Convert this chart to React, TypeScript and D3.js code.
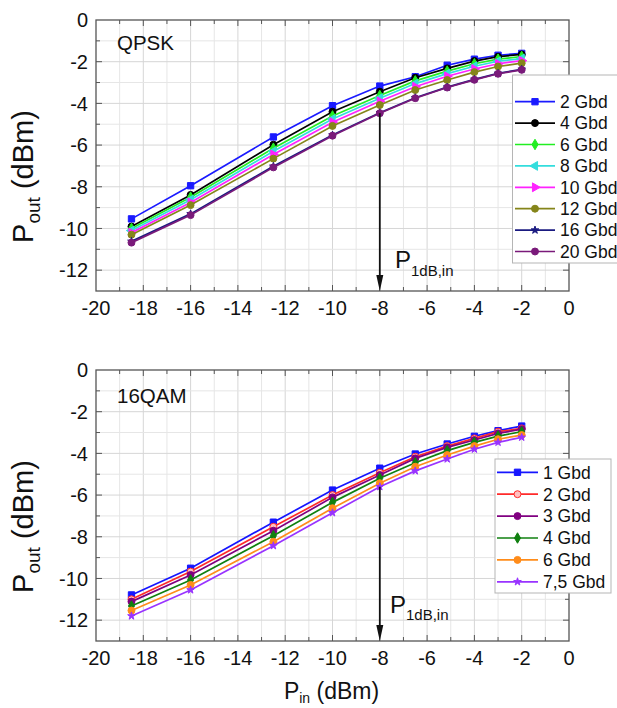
import React from "react";
import * as d3 from "d3";

const PIN = [-18.5, -16, -12.5, -10, -8, -6.5, -5.15, -4, -3, -2];

const QPSK_LABELS = ["2 Gbd", "4 Gbd", "6 Gbd", "8 Gbd", "10 Gbd", "12 Gbd", "16 Gbd", "20 Gbd"];
const QPSK_2 = [-9.54, -7.95, -5.61, -4.11, -3.17, -2.72, -2.17, -1.88, -1.69, -1.6];
const QPSK_4 = [-9.91, -8.39, -5.98, -4.4, -3.44, -2.77, -2.32, -1.97, -1.76, -1.65];
const QPSK_6 = [-10.0, -8.5, -6.15, -4.6, -3.62, -2.92, -2.45, -2.1, -1.88, -1.75];
const QPSK_8 = [-10.1, -8.62, -6.3, -4.75, -3.75, -3.05, -2.57, -2.22, -1.98, -1.85];
const QPSK_10 = [-10.2, -8.75, -6.45, -4.9, -3.9, -3.2, -2.7, -2.35, -2.1, -1.95];
const QPSK_12 = [-10.3, -8.88, -6.65, -5.08, -4.08, -3.36, -2.88, -2.5, -2.23, -2.07];
const QPSK_16 = [-10.62, -9.3, -7.02, -5.52, -4.45, -3.73, -3.22, -2.85, -2.56, -2.37];
const QPSK_20 = [-10.68, -9.36, -7.07, -5.55, -4.47, -3.75, -3.24, -2.87, -2.58, -2.39];

const QAM_LABELS = ["1 Gbd", "2 Gbd", "3 Gbd", "4 Gbd", "6 Gbd", "7,5 Gbd"];
const QAM_1 = [-10.79, -9.51, -7.3, -5.76, -4.71, -4.03, -3.55, -3.18, -2.91, -2.69];
const QAM_2 = [-11.0, -9.67, -7.52, -6.0, -4.93, -4.16, -3.65, -3.28, -2.96, -2.8];
const QAM_3 = [-11.11, -9.83, -7.71, -6.11, -5.04, -4.24, -3.71, -3.36, -3.04, -2.84];
const QAM_4 = [-11.32, -10.07, -7.95, -6.35, -5.19, -4.45, -3.87, -3.47, -3.17, -2.96];
const QAM_6 = [-11.54, -10.31, -8.24, -6.63, -5.43, -4.64, -4.08, -3.65, -3.32, -3.12];
const QAM_75 = [-11.8, -10.55, -8.43, -6.85, -5.6, -4.84, -4.27, -3.8, -3.47, -3.23];

const X_TICKS = [-20, -18, -16, -14, -12, -10, -8, -6, -4, -2, 0];
const Y_TICKS = [0, -2, -4, -6, -8, -10, -12];

const FONT = "'Liberation Sans', Arial, sans-serif";

type Series = { label: string; values: number[]; color: string; fill: string; shape: string };

const qpskSeries: Series[] = [
  { label: QPSK_LABELS[0], values: QPSK_2, color: "#1a1aff", fill: "#1a1aff", shape: "square" },
  { label: QPSK_LABELS[1], values: QPSK_4, color: "#000000", fill: "#000000", shape: "circle" },
  { label: QPSK_LABELS[2], values: QPSK_6, color: "#22ee22", fill: "#22ee22", shape: "diamond" },
  { label: QPSK_LABELS[3], values: QPSK_8, color: "#33dddd", fill: "#33dddd", shape: "triLeft" },
  { label: QPSK_LABELS[4], values: QPSK_10, color: "#ff22ff", fill: "#ff22ff", shape: "triRight" },
  { label: QPSK_LABELS[5], values: QPSK_12, color: "#85851a", fill: "#85851a", shape: "circle" },
  { label: QPSK_LABELS[6], values: QPSK_16, color: "#1a1a80", fill: "#1a1a80", shape: "star" },
  { label: QPSK_LABELS[7], values: QPSK_20, color: "#7a1a7a", fill: "#7a1a7a", shape: "circle" },
];

const qamSeries: Series[] = [
  { label: QAM_LABELS[0], values: QAM_1, color: "#1515ff", fill: "#1515ff", shape: "square" },
  { label: QAM_LABELS[1], values: QAM_2, color: "#ff2a2a", fill: "#ffc0c0", shape: "circle" },
  { label: QAM_LABELS[2], values: QAM_3, color: "#800080", fill: "#800080", shape: "circle" },
  { label: QAM_LABELS[3], values: QAM_4, color: "#108010", fill: "#108010", shape: "diamond" },
  { label: QAM_LABELS[4], values: QAM_6, color: "#ff8c1a", fill: "#ff8c1a", shape: "circle" },
  { label: QAM_LABELS[5], values: QAM_75, color: "#9933ff", fill: "#9933ff", shape: "star" },
];

function markerPath(shape: string): { d: string; rot: number } {
  const sym = d3.symbol();
  switch (shape) {
    case "square":
      return { d: sym.type(d3.symbolSquare).size(40)()!, rot: 0 };
    case "diamond":
      return { d: sym.type(d3.symbolDiamond).size(32)()!, rot: 0 };
    case "triLeft":
      return { d: sym.type(d3.symbolTriangle).size(34)()!, rot: -90 };
    case "triRight":
      return { d: sym.type(d3.symbolTriangle).size(34)()!, rot: 90 };
    case "star":
      return { d: sym.type(d3.symbolStar).size(18)()!, rot: 0 };
    default:
      return { d: sym.type(d3.symbolCircle).size(38)()!, rot: 0 };
  }
}

function Marker({ s, x, y }: { s: Series; x: number; y: number }) {
  const m = markerPath(s.shape);
  return (
    <path
      d={m.d}
      transform={`translate(${x},${y}) rotate(${m.rot})`}
      fill={s.fill}
      stroke={s.color}
      strokeWidth={1}
    />
  );
}

type PanelProps = {
  top: number;
  bottom: number;
  series: Series[];
  title: string;
  titleBaseline: number;
  legend: { x: number; y: number; w: number; h: number; row0: number; step: number; lineX0: number; lineX1: number; textX: number };
  arrowFrom: number;
  label: { x: number; y: number; subDy: number };
  yTitleY: number;
};

const LEFT = 96;
const RIGHT = 569;

function Panel(p: PanelProps) {
  const x = d3.scaleLinear().domain([-20, 0]).range([LEFT, RIGHT]);
  const y = d3.scaleLinear().domain([-13, 0]).range([p.bottom, p.top]);
  const line = d3
    .line<number>()
    .x((_, i) => x(PIN[i]))
    .y((v) => y(v));
  const xMinor = d3.range(-19, 0, 1);
  const yMinor = d3.range(-12, 0, 1);
  const frame = "#555";
  return (
    <g>
      {xMinor.map((v) => (
        <line key={"gx" + v} x1={x(v)} x2={x(v)} y1={p.top} y2={p.bottom} stroke={v % 2 === 0 ? "#d6d6d6" : "#e6e6e6"} strokeWidth={1} />
      ))}
      {yMinor.map((v) => (
        <line key={"gy" + v} y1={y(v)} y2={y(v)} x1={LEFT} x2={RIGHT} stroke={v % 2 === 0 ? "#d6d6d6" : "#e6e6e6"} strokeWidth={1} />
      ))}
      {d3.range(-19, 0, 1).map((v) => {
        const len = v % 2 === 0 ? 6 : 4;
        return (
          <g key={"tx" + v}>
            <line x1={x(v)} x2={x(v)} y1={p.bottom} y2={p.bottom - len} stroke={frame} />
            <line x1={x(v)} x2={x(v)} y1={p.top} y2={p.top + len} stroke={frame} />
          </g>
        );
      })}
      {d3.range(-12, 0, 1).map((v) => {
        const len = v % 2 === 0 ? 6 : 4;
        return (
          <g key={"ty" + v}>
            <line y1={y(v)} y2={y(v)} x1={LEFT} x2={LEFT + len} stroke={frame} />
            <line y1={y(v)} y2={y(v)} x1={RIGHT} x2={RIGHT - len} stroke={frame} />
          </g>
        );
      })}
      <rect x={LEFT} y={p.top} width={RIGHT - LEFT} height={p.bottom - p.top} fill="none" stroke={frame} strokeWidth={1.3} />
      {X_TICKS.map((v) => (
        <text key={"lx" + v} x={x(v)} y={p.bottom + 24} textAnchor="middle" fontFamily={FONT} fontSize={20} fill="#111">
          {v}
        </text>
      ))}
      {Y_TICKS.map((v) => (
        <text key={"ly" + v} x={88} y={y(v)} dy="0.36em" textAnchor="end" fontFamily={FONT} fontSize={20} fill="#111">
          {v}
        </text>
      ))}
      <text transform={`translate(33,${p.yTitleY}) rotate(-90)`} textAnchor="middle" fontFamily={FONT} fontSize={29} fill="#111">
        P<tspan fontSize={19} dy={7}>out</tspan>
        <tspan dy={-7}> (dBm)</tspan>
      </text>
      {p.series.map((s) => (
        <g key={s.label}>
          <path d={line(s.values)!} fill="none" stroke={s.color} strokeWidth={1.7} />
          {s.values.map((v, i) => (
            <Marker key={i} s={s} x={x(PIN[i])} y={y(v)} />
          ))}
        </g>
      ))}
      <text x={117} y={p.titleBaseline} fontFamily={FONT} fontSize={20.5} fill="#111">
        {p.title}
      </text>
      <line x1={x(-8)} x2={x(-8)} y1={y(p.arrowFrom)} y2={p.bottom - 14} stroke="#111" strokeWidth={1.8} />
      <path d={`M${x(-8) - 3.5},${p.bottom - 16} L${x(-8) + 3.5},${p.bottom - 16} L${x(-8)},${p.bottom} Z`} fill="#111" />
      <text x={p.label.x} y={p.label.y} fontFamily={FONT} fontSize={24} fill="#111">
        P<tspan fontSize={15} dy={p.label.subDy}>1dB,in</tspan>
      </text>
      <rect x={p.legend.x} y={p.legend.y} width={p.legend.w} height={p.legend.h} fill="#fff" stroke="#b5b5b5" strokeWidth={1} />
      {p.series.map((s, i) => {
        const ry = p.legend.row0 + i * p.legend.step;
        const mx = (p.legend.lineX0 + p.legend.lineX1) / 2;
        return (
          <g key={"lg" + s.label}>
            <line x1={p.legend.lineX0} x2={p.legend.lineX1} y1={ry} y2={ry} stroke={s.color} strokeWidth={1.7} />
            <Marker s={s} x={mx} y={ry} />
            <text x={p.legend.textX} y={ry} dy="0.36em" fontFamily={FONT} fontSize={17.5} fill="#111">
              {s.label}
            </text>
          </g>
        );
      })}
    </g>
  );
}

export default function App() {
  return (
    <svg width={617} height={708} style={{ position: "absolute", left: 0, top: 0, background: "#fff" }}>
      <rect x={0} y={0} width={617} height={708} fill="#fff" />
      <Panel
        top={20}
        bottom={291}
        series={qpskSeries}
        title="QPSK"
        titleBaseline={49.5}
        legend={{ x: 512.5, y: 75, w: 110, h: 188, row0: 101.7, step: 21.4, lineX0: 515, lineX1: 555, textX: 560 }}
        arrowFrom={-4.47}
        label={{ x: 395, y: 268, subDy: 8 }}
        yTitleY={176.5}
      />
      <Panel
        top={370}
        bottom={641}
        series={qamSeries}
        title="16QAM"
        titleBaseline={402.5}
        legend={{ x: 495, y: 459, w: 116, h: 134, row0: 472.3, step: 21.9, lineX0: 497, lineX1: 538, textX: 543 }}
        arrowFrom={-5.6}
        label={{ x: 390, y: 613, subDy: 7 }}
        yTitleY={526.5}
      />
      <text x={331.5} y={699} textAnchor="middle" fontFamily={FONT} fontSize={23} fill="#111">
        P<tspan fontSize={14} dy={4}>in</tspan>
        <tspan dy={-4}> (dBm)</tspan>
      </text>
    </svg>
  );
}
